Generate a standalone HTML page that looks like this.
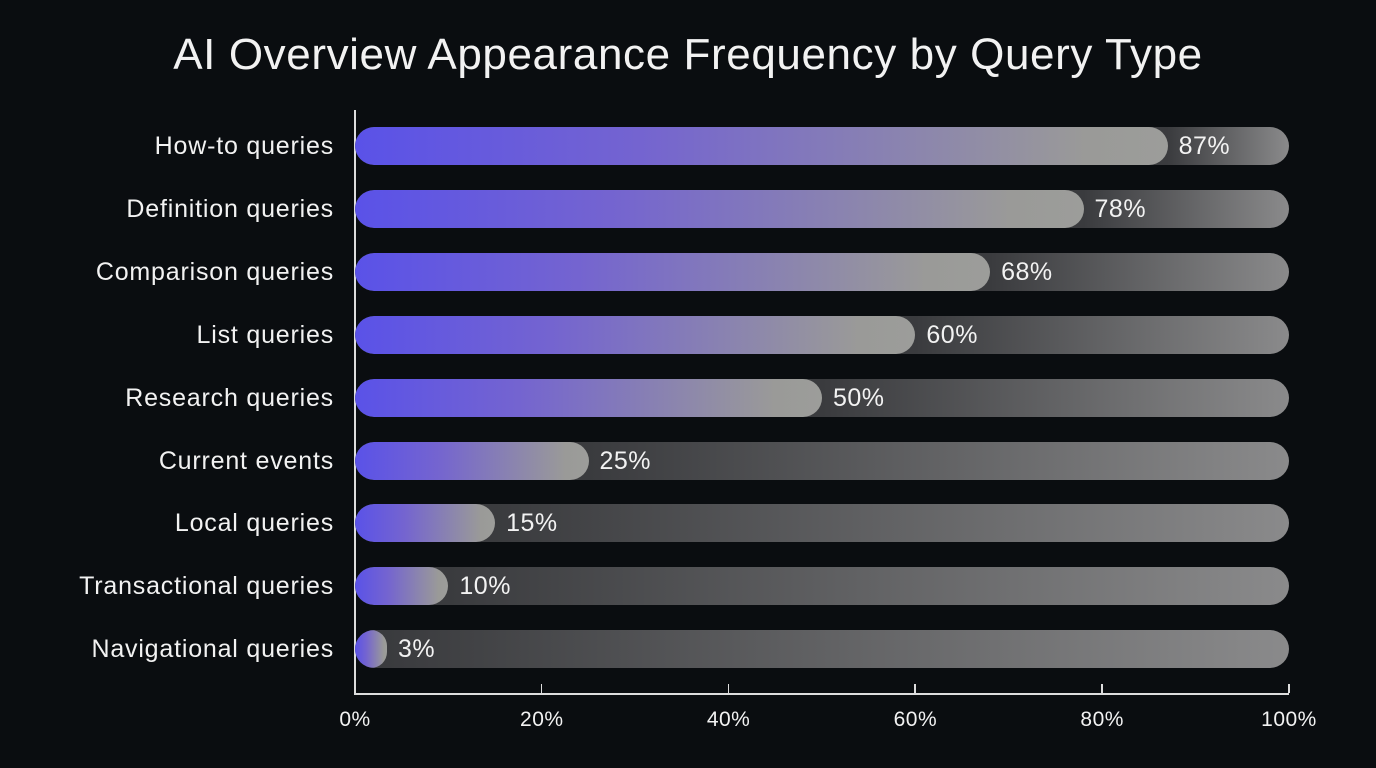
<!DOCTYPE html>
<html><head><style>
body{margin:0;width:1376px;height:768px;background:#0a0d10;font-family:"Liberation Sans",sans-serif;color:#f2f2f2;position:relative;overflow:hidden}
.t{position:absolute;top:30px;left:0;width:1376px;text-align:center;font-size:44px;letter-spacing:0.6px}
.l{position:absolute;right:1042px;font-size:25px;letter-spacing:0.8px;line-height:30px;white-space:nowrap}
.tr{position:absolute;left:355px;width:934px;height:38px;border-radius:19px;overflow:hidden}
.f{position:absolute;left:0;top:0;height:38px;border-radius:19px}
.v{position:absolute;font-size:25px;letter-spacing:0.5px;line-height:30px}
.x{position:absolute;top:708px;font-size:21px;letter-spacing:0.5px;width:80px;text-align:center}
.k{position:absolute;top:684px;width:1.5px;height:9px;background:#ddd}
</style></head><body>
<div class="t">AI Overview Appearance Frequency by Query Type</div>
<div style="position:absolute;left:354px;top:110px;width:1.5px;height:584px;background:#ddd"></div>
<div style="position:absolute;left:354px;top:693px;width:935px;height:1.5px;background:#ddd"></div>
<div id="c"></div>
<script>
const d=[["How-to queries",87],["Definition queries",78],["Comparison queries",68],["List queries",60],["Research queries",50],["Current events",25],["Local queries",15],["Transactional queries",10],["Navigational queries",3]];
let h="";
d.forEach((r,i)=>{const cy=146+i*62.9,top=cy-19,w=Math.max(934*r[1]/100,32),fe=w/934*100;
h+=`<div class="l" style="top:${cy-15}px">${r[0]}</div>`;
h+=`<div class="tr" style="top:${top}px;background:linear-gradient(90deg,#3a3b3e ${fe}%,#8a8a8b 100%)"><div class="f" style="width:${w}px;background:linear-gradient(90deg,#5a52e8 0%,#7464d0 35%,#9a9a98 90%,#9c9d9a 100%)"></div></div>`;
h+=`<div class="v" style="left:${355+w+11}px;top:${cy-15}px">${r[1]}%</div>`;});
for(let i=0;i<=5;i++){const x=355+i*186.8;h+=`<div class="x" style="left:${x-40}px">${i*20}%</div>`;if(i>0)h+=`<div class="k" style="left:${x-1}px"></div>`;}
document.getElementById("c").innerHTML=h;
</script>
</body></html>
